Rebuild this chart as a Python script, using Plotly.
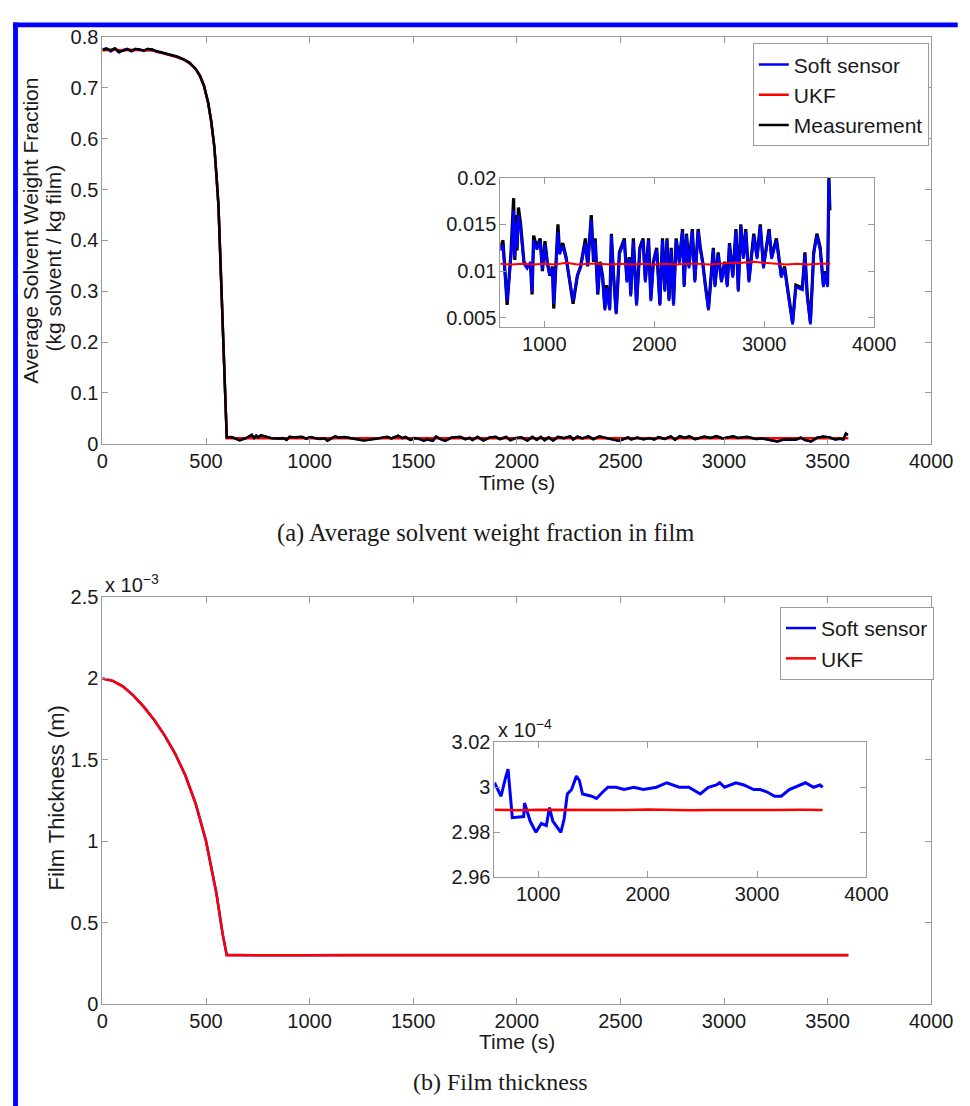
import plotly.graph_objects as go

# ---------------- data ----------------
# (a) solvent weight fraction, before the drop (s, kg/kg)
t_pre = [0, 20, 40, 60, 80, 100, 120, 140, 160, 180, 200, 220, 240, 260, 280, 300,
         330, 360, 390, 420, 450, 470, 490, 510, 525, 540, 550, 560]
meas_pre = [0.775, 0.777, 0.774, 0.778, 0.771, 0.774, 0.776, 0.773, 0.777, 0.775, 0.774,
            0.777, 0.775, 0.772, 0.771, 0.769, 0.766, 0.762, 0.757, 0.750, 0.738, 0.725,
            0.705, 0.672, 0.635, 0.585, 0.530, 0.470]
soft_pre = [0.776, 0.778, 0.772, 0.777, 0.770, 0.775, 0.777, 0.772, 0.776, 0.776, 0.773,
            0.776, 0.776, 0.771, 0.770, 0.768, 0.765, 0.761, 0.757, 0.749, 0.737, 0.724,
            0.704, 0.671, 0.634, 0.584, 0.529, 0.468]
ukf_pre = [0.774, 0.775, 0.775, 0.775, 0.774, 0.774, 0.775, 0.775, 0.775, 0.774, 0.774,
           0.775, 0.774, 0.772, 0.770, 0.768, 0.765, 0.761, 0.756, 0.749, 0.737, 0.724,
           0.704, 0.671, 0.634, 0.584, 0.529, 0.468]

# (a) after the drop
t_post = [600, 624, 662, 697, 721, 732, 742, 752, 765, 785,
          815, 844, 874, 889, 903, 933, 962, 983, 1006, 1027,
          1050, 1074, 1086, 1124, 1139, 1168, 1198, 1227, 1262, 1301,
          1330, 1374, 1395, 1427, 1448, 1463, 1486, 1507, 1530, 1551,
          1566, 1595, 1610, 1630, 1654, 1683, 1728, 1751, 1772, 1786,
          1810, 1839, 1869, 1898, 1919, 1948, 1969, 1992, 2022, 2051,
          2075, 2096, 2116, 2134, 2154, 2175, 2199, 2228, 2257, 2272,
          2293, 2316, 2346, 2369, 2399, 2419, 2440, 2465, 2493, 2517,
          2537, 2552, 2581, 2611, 2640, 2664, 2684, 2714, 2743, 2764,
          2787, 2811, 2832, 2861, 2905, 2935, 2964, 2993, 3044, 3067,
          3111, 3155, 3185, 3214, 3258, 3288, 3347, 3370, 3391, 3420,
          3450, 3479, 3509, 3538, 3559, 3576, 3588, 3597]
meas_post = [0.0125, 0.0133, 0.0064, 0.0120, 0.0178, 0.0112, 0.0160, 0.0122, 0.0168, 0.0150,
             0.0110, 0.0105, 0.0108, 0.0075, 0.0138, 0.0125, 0.0135, 0.0100, 0.0132, 0.0110,
             0.0095, 0.0105, 0.0060, 0.0150, 0.0120, 0.0130, 0.0115, 0.0090, 0.0065, 0.0095,
             0.0105, 0.0135, 0.0105, 0.0160, 0.0110, 0.0135, 0.0075, 0.0110, 0.0095, 0.0060,
             0.0085, 0.0060, 0.0140, 0.0095, 0.0055, 0.0120, 0.0135, 0.0090, 0.0115, 0.0075,
             0.0135, 0.0065, 0.0125, 0.0135, 0.0090, 0.0135, 0.0070, 0.0110, 0.0125, 0.0065,
             0.0135, 0.0080, 0.0135, 0.0070, 0.0125, 0.0065, 0.0135, 0.0110, 0.0145, 0.0085,
             0.0140, 0.0105, 0.0145, 0.0090, 0.0145, 0.0125, 0.0110, 0.0085, 0.0060, 0.0095,
             0.0125, 0.0085, 0.0120, 0.0090, 0.0110, 0.0085, 0.0130, 0.0095, 0.0145, 0.0080,
             0.0150, 0.0115, 0.0145, 0.0090, 0.0140, 0.0115, 0.0150, 0.0105, 0.0145, 0.0115,
             0.0135, 0.0095, 0.0105, 0.0080, 0.0045, 0.0085, 0.0082, 0.0120, 0.0075, 0.0045,
             0.0120, 0.0140, 0.0125, 0.0085, 0.0100, 0.0085, 0.0200, 0.0165]
soft_post = [0.0122, 0.0128, 0.0068, 0.0115, 0.0165, 0.0115, 0.0152, 0.0125, 0.0160, 0.0145,
             0.0108, 0.0103, 0.0110, 0.0078, 0.0133, 0.0123, 0.0132, 0.0102, 0.0128, 0.0108,
             0.0096, 0.0103, 0.0065, 0.0142, 0.0118, 0.0127, 0.0113, 0.0092, 0.0068, 0.0096,
             0.0104, 0.0130, 0.0106, 0.0155, 0.0112, 0.0132, 0.0076, 0.0108, 0.0093, 0.0058,
             0.0082, 0.0058, 0.0138, 0.0093, 0.0054, 0.0118, 0.0133, 0.0088, 0.0113, 0.0073,
             0.0132, 0.0063, 0.0123, 0.0133, 0.0088, 0.0133, 0.0068, 0.0108, 0.0123, 0.0063,
             0.0133, 0.0078, 0.0133, 0.0068, 0.0123, 0.0063, 0.0133, 0.0108, 0.0143, 0.0083,
             0.0138, 0.0103, 0.0143, 0.0088, 0.0143, 0.0123, 0.0108, 0.0083, 0.0058, 0.0093,
             0.0123, 0.0083, 0.0118, 0.0088, 0.0108, 0.0083, 0.0128, 0.0093, 0.0143, 0.0078,
             0.0148, 0.0113, 0.0143, 0.0088, 0.0138, 0.0113, 0.0148, 0.0103, 0.0143, 0.0113,
             0.0133, 0.0093, 0.0103, 0.0078, 0.0043, 0.0083, 0.0080, 0.0118, 0.0073, 0.0043,
             0.0118, 0.0138, 0.0123, 0.0083, 0.0098, 0.0083, 0.0198, 0.0170]
t_ukf_post = [600, 700, 800, 900, 1000, 1100, 1200, 1300, 1400, 1500, 1600, 1700, 1800,
              1900, 2000, 2100, 2200, 2300, 2400, 2500, 2600, 2700, 2800, 2900, 3000,
              3100, 3200, 3300, 3400, 3500, 3600]
ukf_post = [0.0108, 0.0107, 0.0108, 0.0107, 0.0108, 0.0107, 0.0109, 0.0107, 0.0108, 0.0108,
            0.0107, 0.0108, 0.0107, 0.0108, 0.0107, 0.0108, 0.0107, 0.0108, 0.0108, 0.0107,
            0.0108, 0.0109, 0.0109, 0.0110, 0.0109, 0.0108, 0.0107, 0.0108, 0.0107, 0.0108,
            0.0108]

# (b) film thickness, before the drop (units of 1e-3 m)
tb_pre = [0, 50, 100, 150, 200, 250, 300, 350, 400, 450, 500, 550, 580]
ukf_b_pre = [2.000, 1.985, 1.950, 1.895, 1.825, 1.745, 1.650, 1.540, 1.405, 1.230, 1.000,
             0.680, 0.430]
soft_b_pre = [2.000, 1.985, 1.950, 1.895, 1.825, 1.745, 1.650, 1.540, 1.405, 1.230, 1.000,
              0.680, 0.430]
# (b) after the drop (units of 1e-4 m)
tb_soft_post = [600, 660, 700, 724, 763, 867, 875, 926, 979, 1029, 1074, 1103,
                1133, 1163, 1207, 1237, 1266, 1305, 1349, 1376, 1405, 1488,
                1533, 1592, 1637, 1711, 1785, 1873, 1962, 2081, 2175, 2288,
                2377, 2481, 2555, 2629, 2659, 2703, 2807, 2880, 2969, 3029,
                3088, 3162, 3221, 3295, 3384, 3443, 3517, 3576, 3600]
soft_b_post = [3.002, 2.996, 3.004, 3.008, 2.9865, 2.987, 2.993, 2.985, 2.980, 2.984, 2.983, 2.991,
               2.985, 2.983, 2.980, 2.986, 2.997, 2.999, 3.005, 3.003, 2.997, 2.996,
               2.995, 2.998, 3.000, 3.000, 2.999, 3.000, 2.999, 3.000, 3.002, 3.000,
               3.000, 2.997, 3.000, 3.001, 3.002, 3.000, 3.002, 3.001, 2.999, 2.999,
               2.998, 2.996, 2.996, 2.999, 3.001, 3.002, 3.000, 3.001, 3.000]
tb_ukf_post = [600, 800, 1000, 1200, 1400, 1600, 1800, 2000, 2200, 2400, 2600, 2800,
               3000, 3200, 3400, 3600]
ukf_b_post = [2.990, 2.9898, 2.990, 2.9899, 2.9898, 2.990, 2.9899, 2.9901, 2.9899, 2.9898,
              2.9899, 2.9898, 2.9898, 2.9899, 2.9900, 2.9899]

x_ticks = [0, 500, 1000, 1500, 2000, 2500, 3000, 3500, 4000]
ya_ticks = [0, 0.1, 0.2, 0.3, 0.4, 0.5, 0.6, 0.7, 0.8]
ya_text = ["0", "0.1", "0.2", "0.3", "0.4", "0.5", "0.6", "0.7", "0.8"]
yb_ticks = [0, 0.5, 1, 1.5, 2, 2.5]
yb_text = ["0", "0.5", "1", "1.5", "2", "2.5"]
inset_x_ticks = [1000, 2000, 3000, 4000]
ia_ticks = [0.005, 0.01, 0.015, 0.02]
ia_text = ["0.005", "0.01", "0.015", "0.02"]
ib_ticks = [2.96, 2.98, 3.0, 3.02]
ib_text = ["2.96", "2.98", "3", "3.02"]

# ---------------- layout helpers ----------------
W, H = 970, 1106
def fx(p):
    return p / W
def fy(p):
    return 1 - p / H

BLUE, RED, BLACK = "#0000ff", "#ff0000", "#000000"
GRAY = "#9a9a9a"
FONT = "Liberation Sans, Arial, Helvetica, sans-serif"
SERIF = "Liberation Serif, Times New Roman, serif"
TXT = "#1a1a1a"

fig = go.Figure()

# top main
fig.add_trace(go.Scatter(x=t_pre + t_post, y=soft_pre + soft_post, mode="lines",
                         name="Soft sensor", line=dict(color=BLUE, width=2.5),
                         xaxis="x", yaxis="y", legend="legend"))
fig.add_trace(go.Scatter(x=t_pre + t_ukf_post, y=ukf_pre + ukf_post, mode="lines",
                         name="UKF", line=dict(color=RED, width=2.5),
                         xaxis="x", yaxis="y", legend="legend"))
fig.add_trace(go.Scatter(x=t_pre + t_post, y=meas_pre + meas_post, mode="lines",
                         name="Measurement", line=dict(color=BLACK, width=2.5),
                         xaxis="x", yaxis="y", legend="legend"))
# top inset
fig.add_trace(go.Scatter(x=t_post, y=meas_post, mode="lines", showlegend=False,
                         line=dict(color=BLACK, width=3.2), xaxis="x2", yaxis="y2"))
fig.add_trace(go.Scatter(x=t_post, y=soft_post, mode="lines", showlegend=False,
                         line=dict(color=BLUE, width=2.6), xaxis="x2", yaxis="y2"))
fig.add_trace(go.Scatter(x=t_ukf_post, y=ukf_post, mode="lines", showlegend=False,
                         line=dict(color=RED, width=2), xaxis="x2", yaxis="y2"))

# bottom main (post-drop values converted from 1e-4 to 1e-3 m units)
fig.add_trace(go.Scatter(x=tb_pre + tb_soft_post,
                         y=soft_b_pre + [v / 10 for v in soft_b_post], mode="lines",
                         name="Soft sensor", line=dict(color=BLUE, width=2.5),
                         xaxis="x3", yaxis="y3", legend="legend2"))
fig.add_trace(go.Scatter(x=tb_pre + tb_ukf_post,
                         y=ukf_b_pre + [v / 10 for v in ukf_b_post], mode="lines",
                         name="UKF", line=dict(color=RED, width=2.5),
                         xaxis="x3", yaxis="y3", legend="legend2"))
# bottom inset
fig.add_trace(go.Scatter(x=tb_soft_post, y=soft_b_post, mode="lines", showlegend=False,
                         line=dict(color=BLUE, width=3), xaxis="x4", yaxis="y4"))
fig.add_trace(go.Scatter(x=tb_ukf_post, y=ukf_b_post, mode="lines", showlegend=False,
                         line=dict(color=RED, width=2.5), xaxis="x4", yaxis="y4"))

common = dict(showgrid=False, zeroline=False, showline=True, linecolor=GRAY, linewidth=1,
              mirror="ticks", ticks="inside", ticklen=6, tickcolor=GRAY, tickwidth=1,
              tickfont=dict(family=FONT, size=20, color=TXT), fixedrange=True)
xcommon = dict(common, ticklabelstandoff=-1)
ycommon = dict(common, ticklabelstandoff=-1)

fig.update_layout(
    width=W, height=H, margin=dict(l=0, r=0, t=0, b=0),
    paper_bgcolor="white", plot_bgcolor="white",
    xaxis=dict(xcommon, domain=[fx(99.3), fx(952.7)], range=[0, 4000], tickvals=x_ticks,
               ticktext=[str(v) for v in x_ticks], anchor="y"),
    yaxis=dict(ycommon, domain=[fy(441.5), fy(26.7)], range=[0, 0.8], tickvals=ya_ticks,
               ticktext=ya_text, anchor="x"),
    xaxis2=dict(xcommon, domain=[fx(509), fx(894)], range=[600, 4000],
                tickvals=inset_x_ticks, ticktext=[str(v) for v in inset_x_ticks], anchor="y2"),
    yaxis2=dict(ycommon, domain=[fy(322.3), fy(170)], range=[0.00404, 0.02],
                tickvals=ia_ticks, ticktext=ia_text, anchor="x2"),
    xaxis3=dict(xcommon, domain=[fx(99.3), fx(952.7)], range=[0, 4000], tickvals=x_ticks,
                ticktext=[str(v) for v in x_ticks], anchor="y3"),
    yaxis3=dict(ycommon, domain=[fy(1013), fy(598)], range=[0, 2.5], tickvals=yb_ticks,
                ticktext=yb_text, anchor="x3"),
    xaxis4=dict(xcommon, domain=[fx(503), fx(886)], range=[600, 4000],
                tickvals=inset_x_ticks, ticktext=[str(v) for v in inset_x_ticks], anchor="y4"),
    yaxis4=dict(ycommon, domain=[fy(884), fy(746)], range=[2.96, 3.02],
                tickvals=ib_ticks, ticktext=ib_text, anchor="x4"),
    legend=dict(x=fx(769), y=fy(33), xanchor="left", yanchor="top",
                bgcolor="white", bordercolor=GRAY, borderwidth=1,
                font=dict(family=FONT, size=21, color=TXT), tracegroupgap=0),
    legend2=dict(x=fx(797), y=fy(608), xanchor="left", yanchor="top",
                 bgcolor="white", bordercolor=GRAY, borderwidth=1,
                 font=dict(family=FONT, size=21, color=TXT), tracegroupgap=0),
    showlegend=True,
)

ann = []
def add_text(text, x, y, size=20, family=FONT, angle=0, xanchor="center", yanchor="middle"):
    ann.append(dict(text=text, x=fx(x), y=fy(y), xref="paper", yref="paper",
                    showarrow=False, textangle=angle, xanchor=xanchor, yanchor=yanchor,
                    font=dict(family=family, size=size, color=TXT)))

add_text("Time (s)", 526, 481, size=21)
add_text("Time (s)", 526, 1051, size=21)
add_text("(a) Average solvent weight fraction in film", 494, 533, size=24.5, family=SERIF)
add_text("(b) Film thickness", 509, 1093, size=24, family=SERIF)
add_text("Average Solvent Weight Fraction", 25, 224, size=21, angle=-90)
add_text("(kg solvent / kg film)", 49, 252, size=21, angle=-90)
add_text("Film Thickness (m)", 51, 803, size=22, angle=-90)
add_text("x 10<sup>−3</sup>", 100, 584, xanchor="left")
add_text("x 10<sup>−4</sup>", 505, 732, xanchor="left")
fig.update_layout(annotations=ann)

# blue frame of the page
fig.update_layout(shapes=[
    dict(type="rect", xref="paper", yref="paper", x0=fx(7.3), x1=fx(980), y0=fy(16.7), y1=fy(11.7),
         fillcolor=BLUE, line=dict(width=0), layer="above"),
    dict(type="rect", xref="paper", yref="paper", x0=fx(7.3), x1=fx(12.3), y0=fy(1120), y1=fy(11.7),
         fillcolor=BLUE, line=dict(width=0), layer="above"),
])

fig.write_html("out.html")
